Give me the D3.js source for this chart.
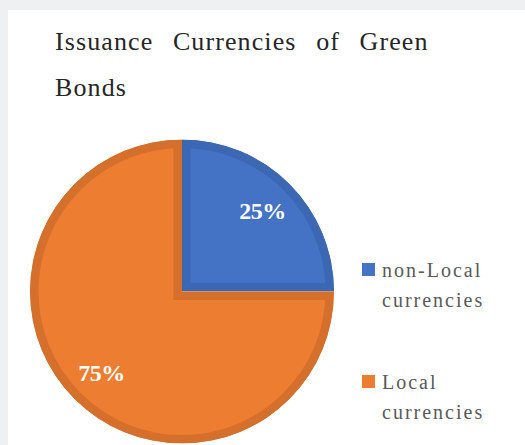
<!DOCTYPE html>
<html>
<head>
<meta charset="utf-8">
<script src="https://cdn.jsdelivr.net/npm/d3@7"></script>
<style>
  body { margin: 0; background: #eff0f2; }
  svg { display: block; }
</style>
</head>
<body>
<script>
// chart data
var categories = ["non-Local currencies", "Local currencies"];
var values = [25, 75];
var legendLines = [["non-Local", "currencies"], ["Local", "currencies"]];
var titleLines = ["Issuance Currencies of Green", "Bonds"];

var w = 525;
var h = 445;

var fills = ["#4472c4", "#ed7d31"];
var strokes = ["#3b67b3", "#d46f2c"];

var svg = d3.select("body")
  .append("svg")
  .attr("width", w)
  .attr("height", h);

// white chart panel
svg.append("rect")
  .attr("x", 8)
  .attr("y", 10)
  .attr("width", w - 8)
  .attr("height", h - 10)
  .attr("fill", "#ffffff");

// title, first line justified (wide word gaps)
titleLines.forEach(function(line, i) {
  svg.append("text")
    .attr("x", 55)
    .attr("y", 50 + i * 46)
    .style("font-family", "'Liberation Serif', serif")
    .style("font-size", "26px")
    .style("letter-spacing", "1.1px")
    .style("word-spacing", i == 0 ? "12px" : "0px")
    .style("fill", "#262626")
    .text(line);
});

var cx = 182, cy = 291.5, r = 152;

var pie = d3.pie().sort(null).value(function(d) { return d; });
var arcs = pie(values);
var arc = d3.arc().innerRadius(0).outerRadius(r);
var labelArc = d3.arc().innerRadius(114).outerRadius(114);

var g = svg.append("g").attr("transform", "translate(" + cx + "," + cy + ")");
var defs = svg.append("defs");

arcs.forEach(function(d, i) {
  defs.append("clipPath")
    .attr("id", "clip" + i)
    .append("path")
    .attr("d", arc(d));
});

// slices with inner border
g.selectAll("path.slice")
  .data(arcs)
  .enter()
  .append("path")
  .attr("class", "slice")
  .attr("d", arc)
  .attr("fill", function(d, i) { return fills[i]; })
  .attr("stroke", function(d, i) { return strokes[i]; })
  .attr("stroke-width", 17)
  .attr("clip-path", function(d, i) { return "url(#clip" + i + ")"; });

// percentage labels
var total = d3.sum(values);
g.selectAll("text.pct")
  .data(arcs)
  .enter()
  .append("text")
  .attr("class", "pct")
  .attr("transform", function(d) { return "translate(" + labelArc.centroid(d) + ")"; })
  .attr("text-anchor", "middle")
  .attr("dy", "0.35em")
  .style("font-family", "'Liberation Serif', serif")
  .style("font-weight", "bold")
  .style("font-size", "24px")
  .style("letter-spacing", "-0.5px")
  .style("fill", "#ffffff")
  .text(function(d) { return Math.round(d.value / total * 100) + "%"; });

// legend
var legendX = 362;
var legendY = [263, 375];
categories.forEach(function(c, i) {
  svg.append("rect")
    .attr("x", legendX)
    .attr("y", legendY[i])
    .attr("width", 13)
    .attr("height", 13)
    .attr("fill", fills[i]);
  legendLines[i].forEach(function(line, j) {
    svg.append("text")
      .attr("x", legendX + 20)
      .attr("y", legendY[i] + 14 + j * 30)
      .style("font-family", "'Liberation Serif', serif")
      .style("font-size", "20px")
      .style("letter-spacing", "2px")
      .style("fill", "#595959")
      .text(line);
  });
});
</script>
</body>
</html>
